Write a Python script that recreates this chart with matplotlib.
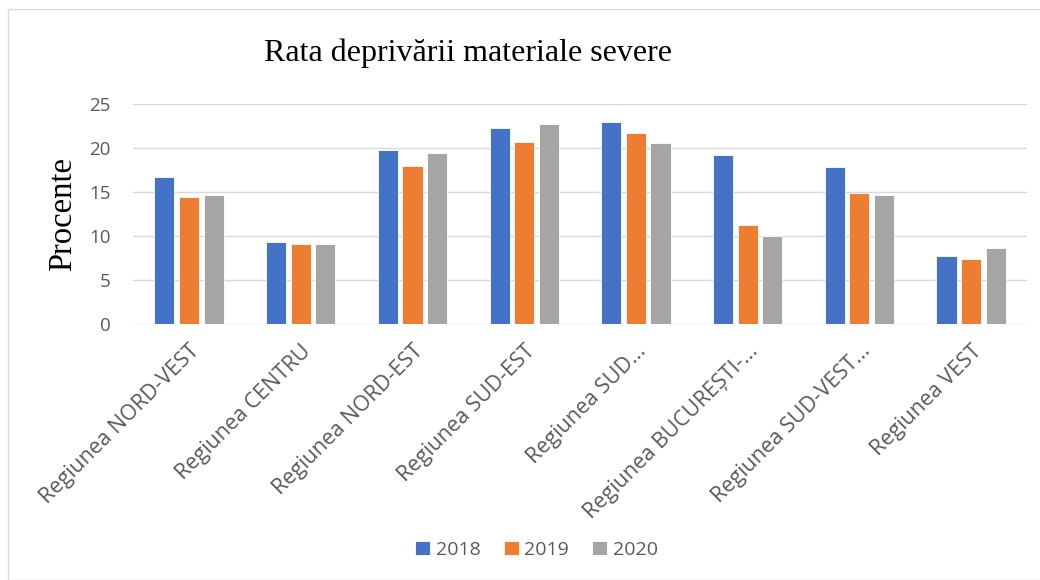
import numpy as np
import matplotlib.pyplot as plt
from matplotlib.patches import Rectangle

# Date
regiuni = ["Regiunea NORD-VEST", "Regiunea CENTRU", "Regiunea NORD-EST",
           "Regiunea SUD-EST", "Regiunea SUD...", "Regiunea BUCUREȘTI-...",
           "Regiunea SUD-VEST...", "Regiunea VEST"]
ani = ["2018", "2019", "2020"]
v2018 = [16.75, 9.35, 19.8, 22.3, 23.0, 19.25, 17.8, 7.75]
v2019 = [14.45, 9.05, 17.9, 20.7, 21.7, 11.2, 14.9, 7.4]
v2020 = [14.7, 9.05, 19.4, 22.7, 20.6, 10.0, 14.7, 8.6]
culori = ["#4472C4", "#ED7D31", "#A5A5A5"]

fig = plt.figure(figsize=(10.4, 5.8), dpi=100)
ax = fig.add_axes([0.128, 0.4414, 0.8595, 0.3793])

x = np.arange(len(regiuni))
for i, (vals, an) in enumerate(zip([v2018, v2019, v2020], ani)):
    ax.bar(x + (i - 1) * 0.22, vals, width=0.18, color=culori[i],
           edgecolor="white", linewidth=0.6, label=an, zorder=3)

ax.set_xlim(-0.5, len(regiuni) - 0.5)
ax.set_ylim(0, 25)
ax.set_yticks([0, 5, 10, 15, 20, 25])
ax.grid(axis="y", color="#D9D9D9", linewidth=1, zorder=0)
for s in ax.spines.values():
    s.set_visible(False)
ax.tick_params(axis="both", length=0, colors="#595959")
ax.tick_params(axis="y", pad=16, labelsize=13.5)
ax.tick_params(axis="x", pad=12)
ax.set_xticks(x)
ax.set_xticklabels(regiuni, rotation=45, ha="right", rotation_mode="anchor",
                   fontfamily="Open Sans", fontsize=15.5)
for lab in ax.get_yticklabels():
    lab.set_fontfamily("Open Sans")

ax.set_ylabel("Procente", fontfamily="Liberation Serif", fontsize=23.5, labelpad=8)

fig.text(0.45, 0.908, "Rata deprivării materiale severe", ha="center", va="center",
         fontfamily="Liberation Serif", fontsize=23)

leg = fig.legend(loc="center", bbox_to_anchor=(0.516, 0.052), ncol=3, frameon=False,
                 handlelength=0.75, handleheight=0.75, handletextpad=0.3, columnspacing=1.2,
                 prop={"family": "Open Sans", "size": 14})
for t in leg.get_texts():
    t.set_color("#595959")

# chenar
fig.patches.append(Rectangle((0.008, 0.0), 1.0, 0.985, transform=fig.transFigure,
                             fill=False, edgecolor="#D9D9D9", linewidth=1))

fig.savefig("out.png", dpi=100)
